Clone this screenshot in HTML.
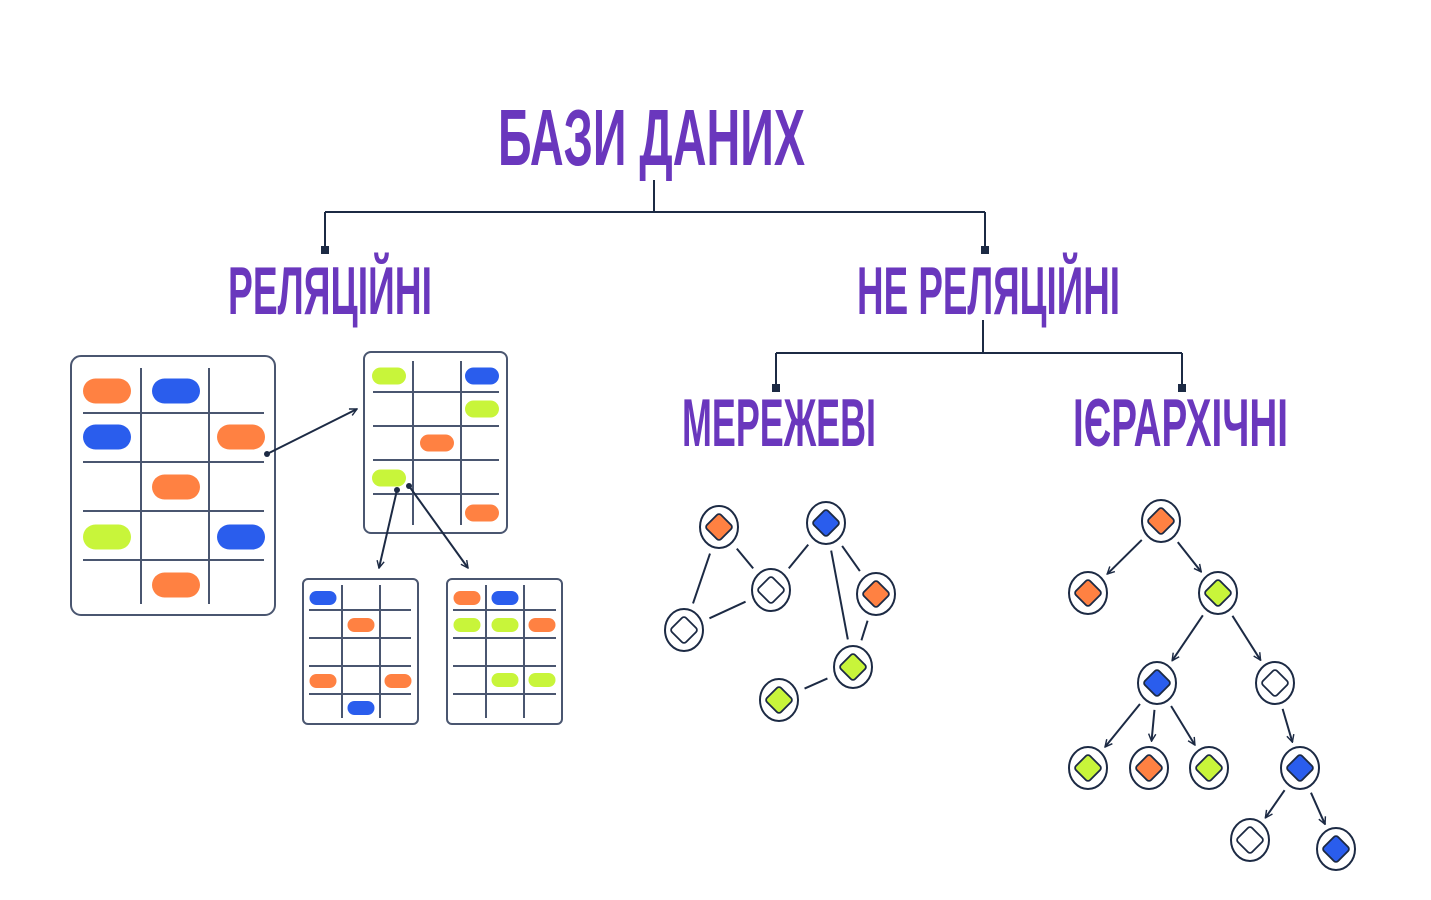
<!DOCTYPE html>
<html><head><meta charset="utf-8"><style>
html,body{margin:0;padding:0;background:#fff;}
svg{display:block}
text{font-family:"Liberation Sans Narrow","Liberation Sans",sans-serif;font-weight:bold;fill:#6a37bd;}
</style></head><body>
<svg id="s" width="1431" height="900" viewBox="0 0 1431 900" xmlns="http://www.w3.org/2000/svg">
<defs>
<marker id="ar" viewBox="0 0 10 10" refX="9" refY="5" markerWidth="9" markerHeight="9" orient="auto-start-reverse" markerUnits="userSpaceOnUse">
<path d="M1,1 L9,5 L1,9" fill="none" stroke="#1c2a44" stroke-width="1.6"/></marker>
</defs>
<text x="498" y="165" font-size="80" textLength="307" lengthAdjust="spacingAndGlyphs">БАЗИ ДАНИХ</text>
<text x="228" y="314" font-size="68" textLength="204" lengthAdjust="spacingAndGlyphs">РЕЛЯЦІЙНІ</text>
<text x="857" y="314" font-size="68" textLength="263" lengthAdjust="spacingAndGlyphs">НЕ РЕЛЯЦІЙНІ</text>
<text x="682" y="446" font-size="68" textLength="194" lengthAdjust="spacingAndGlyphs">МЕРЕЖЕВІ</text>
<text x="1073" y="446" font-size="68" textLength="215" lengthAdjust="spacingAndGlyphs">ІЄРАРХІЧНІ</text>
<g fill="none" stroke="#1c2a44" stroke-width="2">
<path d="M654,180V212M325,212H985M325,212V250M985,212V250"/>
<path d="M983,320V353M776,353H1182M776,353V388M1182,353V388"/>
</g>
<g fill="#1c2a44"><rect x="321" y="246" width="8" height="8"/><rect x="981" y="246" width="8" height="8"/><rect x="772" y="384" width="8" height="8"/><rect x="1178" y="384" width="8" height="8"/></g>
<g id="g"></g>
</svg>
<script>
var g=document.getElementById('g'),h='';
var C={o:'#ff8142',b:'#2a5ded',g:'#c8f53a',w:'#fff'},L='#1c2a44';
function tbl(x,y,w,hh,vx,vy,vy0,vy1,hx0,hx1,hy,rx){
 h+='<rect x="'+x+'" y="'+y+'" width="'+w+'" height="'+hh+'" rx="'+rx+'" fill="#fff" stroke="#4a5670" stroke-width="2"/>';
 vx.forEach(function(a){h+='<line x1="'+a+'" y1="'+vy0+'" x2="'+a+'" y2="'+vy1+'" stroke="#4a5670" stroke-width="2"/>';});
 hy.forEach(function(a){h+='<line x1="'+hx0+'" y1="'+a+'" x2="'+hx1+'" y2="'+a+'" stroke="#4a5670" stroke-width="2"/>';});
}
function pills(w,hh,arr){arr.forEach(function(p){h+='<rect x="'+(p[1]-w/2)+'" y="'+(p[2]-hh/2)+'" width="'+w+'" height="'+hh+'" rx="'+hh/2+'" fill="'+C[p[0]]+'"/>';});}
tbl(71,356,204,259,[141,209],0,368,604,83,264,[413,462,511,560],10);
pills(48,25,[['o',107,391],['b',176,391],['b',107,437],['o',241,437],['o',176,487],['g',107,537],['b',241,537],['o',176,585]]);
tbl(364,352,143,181,[413,461],0,361,525,373,499,[392,426,460,494],7);
pills(34,17,[['g',389,376],['b',482,376],['g',482,409],['o',437,443],['g',389,478],['o',482,513]]);
tbl(303,579,115,145,[342,380],0,585,718,309,411,[610,638,666,694],5);
pills(27,14,[['b',323,598],['o',361,625],['o',323,681],['o',398,681],['b',361,708]]);
tbl(447,579,115,145,[486,524],0,585,718,453,556,[610,638,666,694],5);
pills(27,14,[['o',467,598],['b',505,598],['g',467,625],['g',505,625],['o',542,625],['g',505,680],['g',542,680]]);
function arr(x1,y1,x2,y2,dot){h+='<line x1="'+x1+'" y1="'+y1+'" x2="'+x2+'" y2="'+y2+'" stroke="'+L+'" stroke-width="2" marker-end="url(#ar)"/>';if(dot)h+='<circle cx="'+x1+'" cy="'+y1+'" r="3" fill="'+L+'"/>';}
arr(267,454,357,409,1);arr(397,490,379,568,1);arr(409,486,468,568,1);
function seg(a,b,gap,arrow){var dx=b[0]-a[0],dy=b[1]-a[1],d=Math.sqrt(dx*dx+dy*dy),ux=dx/d,uy=dy/d;
 var x1=a[0]+ux*gap,y1=a[1]+uy*gap,x2=b[0]-ux*gap,y2=b[1]-uy*gap;
 h+='<line x1="'+x1+'" y1="'+y1+'" x2="'+x2+'" y2="'+y2+'" stroke="'+L+'" stroke-width="2"'+(arrow?' marker-end="url(#ar)"':'')+'/>';}
function node(n){h+='<ellipse cx="'+n[1]+'" cy="'+n[2]+'" rx="19" ry="21" fill="#fff" stroke="'+L+'" stroke-width="2"/>'+
 '<rect x="'+(n[1]-10)+'" y="'+(n[2]-10)+'" width="20" height="20" rx="3" fill="'+C[n[0]]+'" stroke="'+L+'" stroke-width="1.8" transform="rotate(45 '+n[1]+' '+n[2]+')"/>';}
var N={A:['o',719,527],B:['b',826,523],Cc:['w',771,590],D:['o',876,594],E:['w',684,630],F:['g',853,667],G:['g',779,700]};
[['A','Cc'],['A','E'],['Cc','E'],['Cc','B'],['B','F'],['B','D'],['D','F'],['F','G']].forEach(function(e){seg([N[e[0]][1],N[e[0]][2]],[N[e[1]][1],N[e[1]][2]],28,0);});
for(var k in N)node(N[k]);
var T={r:['o',1161,521],l:['o',1088,593],R:['g',1218,593],rl:['b',1157,683],rr:['w',1275,683],a:['g',1088,768],b:['o',1149,768],c:['g',1209,768],d:['b',1300,768],e:['w',1250,840],f:['b',1336,849]};
[['r','l'],['r','R'],['R','rl'],['R','rr'],['rl','a'],['rl','b'],['rl','c'],['rr','d'],['d','e'],['d','f']].forEach(function(e){seg([T[e[0]][1],T[e[0]][2]],[T[e[1]][1],T[e[1]][2]],27,1);});
for(var k in T)node(T[k]);
g.innerHTML=h;
</script>
</body></html>
